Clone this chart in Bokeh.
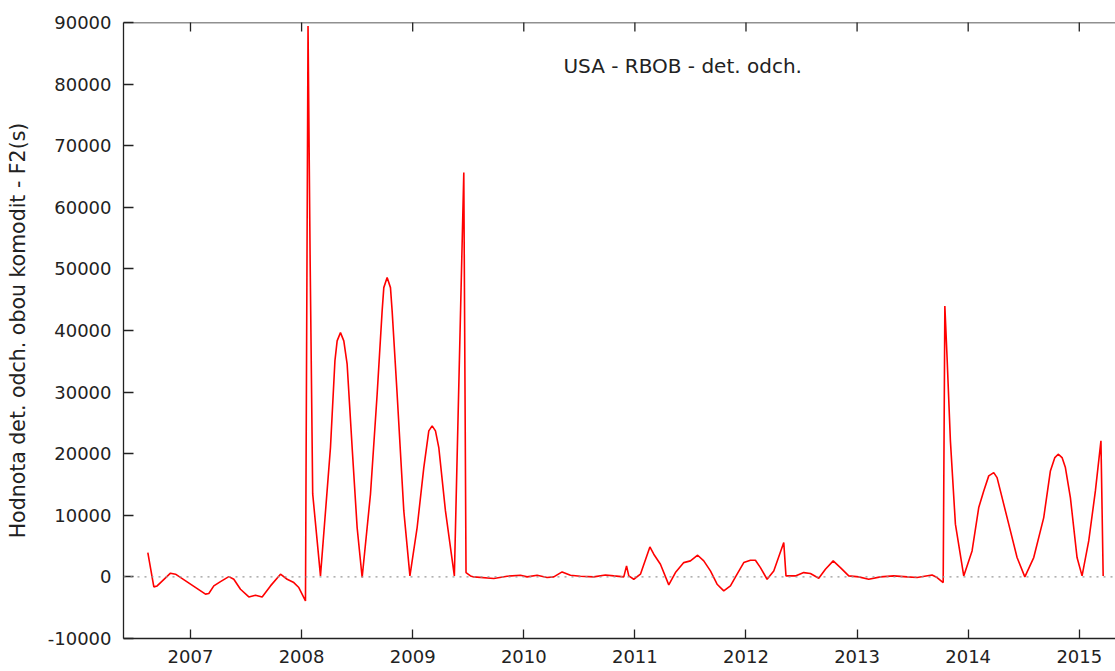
import math
from bokeh.plotting import figure
from bokeh.models import Range1d, FixedTicker, LinearAxis, Span, Label, NumeralTickFormatter
from bokeh.embed import file_html
from bokeh.resources import INLINE

# decimal years
t = [2006.616, 2006.67, 2006.70, 2006.82, 2006.865, 2007.135, 2007.165, 2007.21, 2007.27, 2007.345,
     2007.39, 2007.45, 2007.525, 2007.585, 2007.645, 2007.72, 2007.81, 2007.87, 2007.93, 2007.975,
     2008.035, 2008.058, 2008.077, 2008.10, 2008.17, 2008.26, 2008.30, 2008.32, 2008.35, 2008.38,
     2008.41, 2008.455, 2008.50, 2008.545, 2008.62, 2008.68, 2008.725, 2008.74, 2008.77, 2008.80,
     2008.815, 2008.86, 2008.92, 2008.975, 2009.04, 2009.10, 2009.145, 2009.175, 2009.205, 2009.235,
     2009.295, 2009.375, 2009.46, 2009.48, 2009.52, 2009.55,
     2009.73, 2009.85, 2009.97, 2010.03, 2010.12, 2010.21, 2010.27, 2010.345, 2010.42, 2010.51,
     2010.63, 2010.735, 2010.81, 2010.90, 2010.925, 2010.945, 2010.99, 2011.05, 2011.135, 2011.17,
     2011.23, 2011.305, 2011.365, 2011.44, 2011.50, 2011.565, 2011.62, 2011.68, 2011.74, 2011.80,
     2011.86, 2011.92, 2011.98, 2012.04, 2012.085, 2012.13, 2012.19, 2012.25, 2012.34, 2012.36,
     2012.445, 2012.52, 2012.58, 2012.655, 2012.715, 2012.785, 2012.85, 2012.925, 2013.015, 2013.105,
     2013.21, 2013.33, 2013.45, 2013.54, 2013.675, 2013.72, 2013.775, 2013.79, 2013.81, 2013.84,
     2013.885, 2013.96, 2014.035, 2014.095, 2014.14, 2014.185, 2014.23, 2014.26, 2014.29, 2014.365,
     2014.44, 2014.51, 2014.59, 2014.68, 2014.74, 2014.78, 2014.81, 2014.845, 2014.875, 2014.92,
     2014.98, 2015.025, 2015.085, 2015.145, 2015.195, 2015.215]

f2 = [3950, -1620, -1460, 600, 440, -2800, -2700, -1460, -760, 50,
      -380, -2000, -3250, -2970, -3250, -1460, 440, -380, -920, -1730,
      -3900, 89450, 51300, 13470, 160, 21000, 35060, 38310, 39660, 38310,
      34530, 21000, 8000, -100, 13420, 29660, 43180, 46960, 48590, 46960,
      43180, 29660, 10710, 160, 8000, 17740, 23700, 24510, 23700, 21000,
      10710, 160, 65630, 700, 160, 0,
      -270, 110, 270, 0, 270, -100, 0, 810, 270, 110,
      0, 320, 160, 0, 1790, 160, -380, 440, 4870, 3680,
      2060, -1300, 700, 2320, 2600, 3520, 2600, 970, -1190, -2270,
      -1460, 440, 2320, 2710, 2710, 1510, -380, 970, 5570, 160,
      160, 700, 540, -210, 1250, 2600, 1510, 160, 0, -380,
      0, 160, 0, -100, 320, -100, -920, 43990, 35600, 22080,
      8560, 160, 4220, 11250, 13960, 16400, 16930, 16120, 13960, 8560,
      3140, 0, 3140, 9630, 17210, 19370, 19920, 19370, 17740, 12870,
      3140, 160, 5840, 13960, 22080, 160]

year_ticks = [2007, 2008, 2009, 2010, 2011, 2012, 2013, 2014, 2015]
value_ticks = [-10000, 0, 10000, 20000, 30000, 40000, 50000, 60000, 70000, 80000, 90000]
title_text = "USA - RBOB - det. odch."
y_label = "Hodnota det. odch. obou komodit - F2(s)"

FONT = "DejaVu Sans"
TXT = "#222222"
AX = "#222222"

p = figure(width=1115, height=671, output_backend="svg", toolbar_location=None,
           x_range=Range1d(2006.397, 2015.326), y_range=Range1d(-10000, 90000),
           min_border_left=123, min_border_right=0, min_border_top=22, min_border_bottom=33,
           x_axis_location=None, y_axis_location=None)
p.outline_line_color = None
p.grid.visible = False
p.background_fill_color = "white"
p.border_fill_color = "white"

# zero line
p.add_layout(Span(location=0, dimension="width", line_color="#999999",
                  line_dash="2 5", line_width=1.2))

p.line(t, f2, line_color="#ff0000", line_width=1.6)

# top border with inward ticks (markers clipped to the frame)
p.add_layout(Span(location=p.y_range.end, dimension="width", line_color=AX, line_width=1.3))
p.scatter(year_ticks, [p.y_range.end] * len(year_ticks), marker="dash", angle=math.pi / 2,
          size=18, line_color=AX, line_width=1.3)

def style(ax, tick_in):
    ax.axis_line_color = AX
    ax.axis_line_width = 1.3
    ax.major_tick_line_color = AX
    ax.major_tick_line_width = 1.3
    ax.major_tick_in = tick_in
    ax.major_tick_out = 0
    ax.minor_tick_line_color = None
    ax.major_label_text_font = FONT
    ax.major_label_text_color = TXT
    ax.major_label_text_font_size = "18px"

bottom = LinearAxis(ticker=FixedTicker(ticks=year_ticks), formatter=NumeralTickFormatter(format="0"))
style(bottom, 9)
bottom.major_label_standoff = 11
p.add_layout(bottom, "below")

left = LinearAxis(ticker=FixedTicker(ticks=value_ticks), formatter=NumeralTickFormatter(format="0"))
style(left, 10)
left.major_label_standoff = 12
left.axis_label = y_label
left.axis_label_text_font = FONT
left.axis_label_text_font_style = "normal"
left.axis_label_text_color = TXT
left.axis_label_text_font_size = "20.5px"
left.axis_label_standoff = 15
p.add_layout(left, "left")

p.add_layout(Label(x=2010.357, y=82900, text=title_text, text_font=FONT, text_font_size="20px",
                   text_color=TXT, text_baseline="middle", text_align="left"))

open("out.html", "w").write(file_html(p, INLINE))
